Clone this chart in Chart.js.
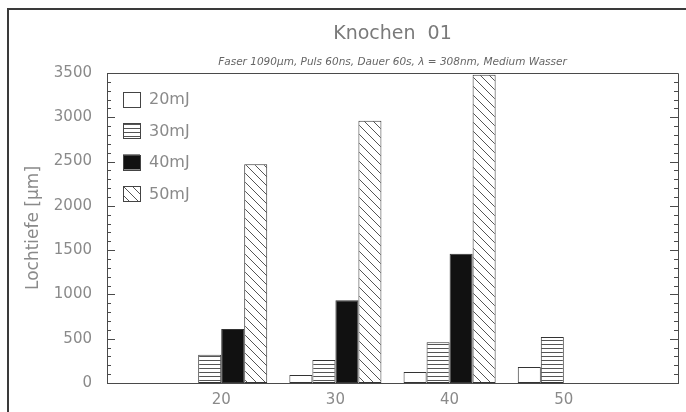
<!DOCTYPE html>
<html><head><meta charset="utf-8">
<script src="https://cdn.jsdelivr.net/npm/chart.js@4/dist/chart.umd.min.js"></script>
<style>html,body{margin:0;padding:0;background:#fff}</style>
</head><body>
<canvas id="c" width="686" height="412"></canvas>
<script>
const categories = ['10', '20', '30', '40', '50', '60'];
const seriesLabels = ['20mJ', '30mJ', '40mJ', '50mJ'];
const values20mJ = [null, null, 90, 125, 180, null];
const values30mJ = [null, 320, 260, 460, 520, null];
const values40mJ = [null, 610, 935, 1460, null, null];
const values50mJ = [null, 2470, 2960, 3480, null, null];
const yTickValues = [0, 500, 1000, 1500, 2000, 2500, 3000, 3500];
const titleText = 'Knochen  01';
const subtitleText = 'Faser 1090µm, Puls 60ns, Dauer 60s, λ = 308nm, Medium Wasser';
const yAxisTitle = 'Lochtiefe [µm]';

const FONT = "'DejaVu Sans', sans-serif";
const TEXT = '#8a8a8a';
const LINE = '#4a4a4a';

function makePattern(kind) {
  const c = document.createElement('canvas');
  const ctx = c.getContext('2d');
  if (kind === 'h') {
    c.width = 8; c.height = 4;
    ctx.fillStyle = '#fff'; ctx.fillRect(0, 0, 8, 4);
    ctx.strokeStyle = '#555'; ctx.lineWidth = 1;
    ctx.beginPath(); ctx.moveTo(0, 0.5); ctx.lineTo(8, 0.5); ctx.stroke();
  } else {
    const s = 9;
    c.width = s; c.height = s;
    ctx.fillStyle = '#fff'; ctx.fillRect(0, 0, s, s);
    ctx.strokeStyle = '#555'; ctx.lineWidth = 1;
    ctx.beginPath();
    ctx.moveTo(0, 0); ctx.lineTo(s, s);
    ctx.moveTo(-1, s - 1); ctx.lineTo(1, s + 1);
    ctx.moveTo(s - 1, -1); ctx.lineTo(s + 1, 1);
    ctx.stroke();
  }
  return document.getElementById('c').getContext('2d').createPattern(c, 'repeat');
}

const fills = ['#ffffff', makePattern('h'), '#111111', makePattern('d')];
const seriesValues = [values20mJ, values30mJ, values40mJ, values50mJ];

const decor = {
  id: 'decor',
  afterDraw(chart) {
    const ctx = chart.ctx;
    const a = chart.chartArea;
    const y = chart.scales.y;
    ctx.save();
    ctx.strokeStyle = LINE; ctx.lineWidth = 1;
    ctx.beginPath();
    ctx.moveTo(Math.round(a.left) + 0.5, Math.round(a.top) + 0.5);
    ctx.lineTo(Math.round(a.right) + 0.5, Math.round(a.top) + 0.5);
    ctx.lineTo(Math.round(a.right) + 0.5, Math.round(a.bottom) + 0.5);
    ctx.stroke();
    ctx.beginPath();
    for (let v = 0; v <= 3500; v += 100) {
      const py = Math.round(y.getPixelForValue(v)) + 0.5;
      const len = v % 500 === 0 ? 8 : 4;
      ctx.moveTo(a.left, py); ctx.lineTo(a.left + len, py);
      ctx.moveTo(a.right, py); ctx.lineTo(a.right - len, py);
    }
    ctx.stroke();
    const cx = (a.left + a.right) / 2;
    ctx.fillStyle = '#7a7a7a';
    ctx.textAlign = 'center'; ctx.textBaseline = 'middle';
    ctx.font = '19px ' + FONT;
    ctx.fillText(titleText, cx, 34);
    ctx.font = 'italic 10.5px ' + FONT;
    ctx.fillStyle = '#666';
    ctx.fillText(subtitleText, cx, 62);
    ctx.textAlign = 'left';
    ctx.font = '16px ' + FONT;
    chart.data.datasets.forEach((ds, i) => {
      const cy = 99 + i * 31.5;
      const bx = 123, bw = 17, bh = 15;
      ctx.fillStyle = ds.backgroundColor;
      ctx.fillRect(bx, cy - bh / 2, bw, bh);
      ctx.strokeStyle = '#444';
      ctx.strokeRect(bx + 0.5, Math.round(cy - bh / 2) + 0.5, bw, bh);
      ctx.fillStyle = TEXT;
      ctx.fillText(ds.label, 149, cy + 1);
    });
    ctx.strokeStyle = '#3a3a3a'; ctx.lineWidth = 2;
    ctx.beginPath();
    ctx.moveTo(8, 412); ctx.lineTo(8, 9); ctx.lineTo(686, 9);
    ctx.stroke();
    ctx.restore();
  }
};

new Chart(document.getElementById('c'), {
  type: 'bar',
  data: {
    labels: categories,
    datasets: seriesLabels.map((lab, i) => ({
      label: lab,
      data: seriesValues[i],
      backgroundColor: fills[i],
      borderColor: '#333',
      borderWidth: 1,
      borderSkipped: false,
      categoryPercentage: 0.806,
      barPercentage: 1
    }))
  },
  options: {
    responsive: false,
    devicePixelRatio: 1,
    animation: false,
    layout: { padding: { top: 73, right: 8, left: 0, bottom: 0 } },
    plugins: { legend: { display: false }, title: { display: false }, tooltip: { enabled: false } },
    scales: {
      x: {
        type: 'category',
        offset: false,
        grid: { display: false, drawTicks: false },
        border: { display: true, color: LINE, width: 1 },
        ticks: {
          autoSkip: false, maxRotation: 0, padding: 8,
          color: TEXT, font: { family: FONT, size: 15 },
          callback(v, i) { const l = categories[i]; return (l === '10' || l === '60') ? '' : l; }
        },
        afterFit(s) { s.height = 29; }
      },
      y: {
        min: 0, max: 3500,
        grid: { display: false, drawTicks: false },
        border: { display: true, color: LINE, width: 1 },
        afterBuildTicks(s) { s.ticks = yTickValues.map(v => ({ value: v })); },
        ticks: { padding: 15, color: TEXT, font: { family: FONT, size: 15 }, callback(v) { return String(v); } },
        title: { display: true, text: yAxisTitle, color: TEXT, font: { family: FONT, size: 17 }, padding: { top: 23, bottom: 0 } },
        afterFit(s) { s.width = 107; }
      }
    }
  },
  plugins: [decor]
});
</script>
</body></html>
